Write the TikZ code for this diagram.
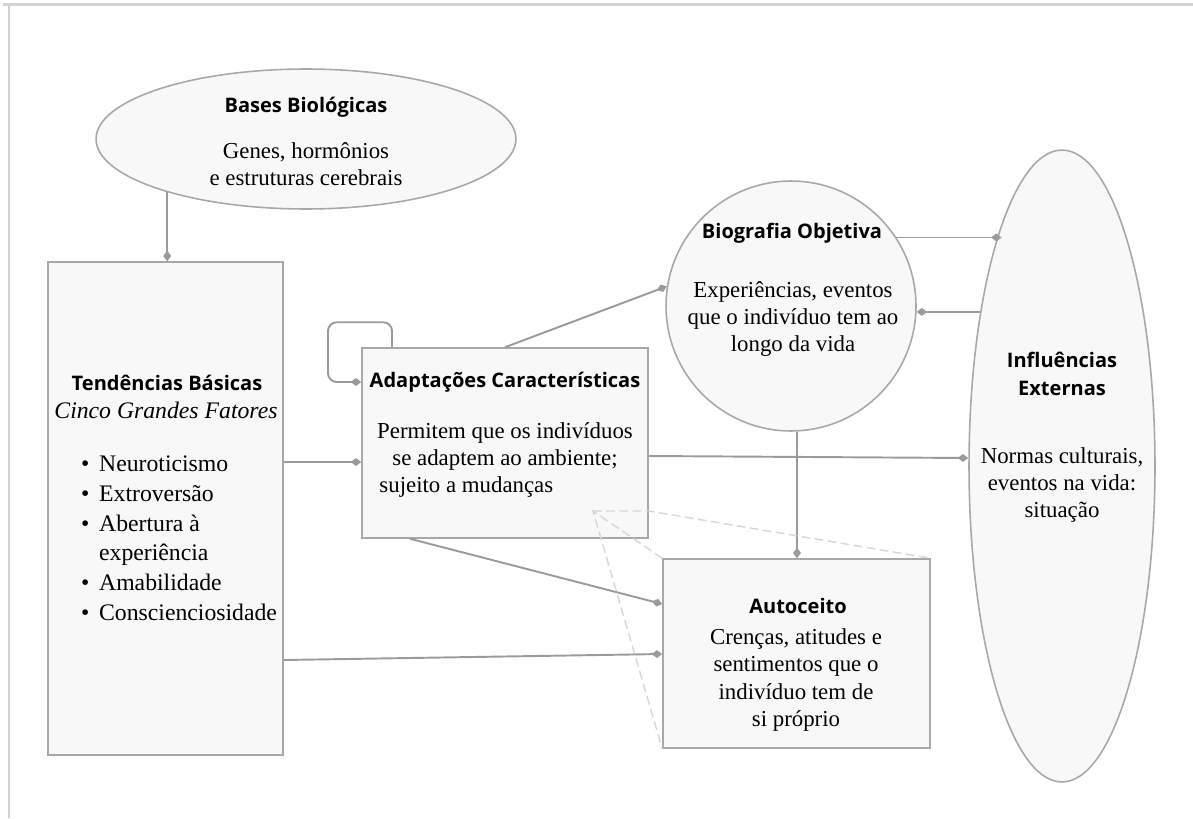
\documentclass[tikz,border=0pt]{standalone}
\usepackage{fontspec}
\setmainfont{Liberation Serif}
\newfontfamily\headfont{Open Sans}
\usetikzlibrary{arrows.meta,shapes.geometric}

\definecolor{linegray}{HTML}{9B9B9B}
\definecolor{boxgray}{HTML}{A8A8A8}
\definecolor{fillgray}{HTML}{F8F8F8}
\definecolor{dashgray}{HTML}{D6D6D6}
\definecolor{framegray}{HTML}{D2D2D2}

\tikzset{
  box/.style={draw=boxgray, fill=fillgray, line width=0.9pt, inner sep=0pt},
  oval/.style={box, ellipse},
  head/.style={font=\headfont\bfseries\fontsize{11.4}{15.5}\selectfont, align=center},
  body/.style={font=\fontsize{13}{15.5}\selectfont, align=center},
  con/.style={draw=linegray, line width=1.1pt, -{Diamond[length=6pt,width=4.5pt]}},
  callout/.style={draw=dashgray, line width=0.8pt, dash pattern=on 5pt off 2.5pt},
}

\begin{document}
\begin{tikzpicture}[x=0.02cm,y=-0.02cm]
  \useasboundingbox (0,0) rectangle (1193,818);
  % frame
  \draw[framegray, line width=1.2pt] (3,4.5) -- (1193,4.5);
  \draw[framegray, line width=1.2pt] (9,4.5) -- (9,818);

  % shapes
  \node[oval, minimum width=8.4cm, minimum height=2.8cm] (bases) at (306,139) {};
  \node[box, minimum width=4.7cm, minimum height=9.86cm] (tend) at (165.5,508.5) {};
  \node[box, minimum width=5.72cm, minimum height=3.8cm] (adapt) at (505,443) {};
  \node[box, circle, minimum size=5cm] (bio) at (791,306) {};
  \node[oval, minimum width=3.72cm, minimum height=12.64cm] (infl) at (1062,466) {};
  \node[box, minimum width=5.34cm, minimum height=3.78cm] (auto) at (796.5,653.5) {};

  % texts
  \node[head] (basesT) at (306,107) {Bases Biológicas};
  \node[body] (basesB) at (306,164) {Genes, hormônios\\e estruturas cerebrais};

  \node[head] (tendT) at (167,383) {Tendências Básicas};
  \node[body, font=\itshape\fontsize{13.5}{15.5}\selectfont] (tendS) at (166,410) {Cinco Grandes Fatores};
  \node[body, anchor=west, font=\fontsize{13.5}{17}\selectfont, align=left] (tendL) at (75,540)
    {\renewcommand{\arraystretch}{1}%
     \begin{tabular}{@{}l@{\hspace{5.5pt}}l@{}}
       \textbullet & Neuroticismo\\
       \textbullet & Extroversão\\
       \textbullet & Abertura à\\
                   & experiência\\
       \textbullet & Amabilidade\\
       \textbullet & Conscienciosidade
     \end{tabular}};

  \node[head] (adaptT) at (505,382) {Adaptações Características};
  \node[body] (adaptB) at (505,460) {Permitem que os indivíduos\\se adaptem ao ambiente;\\sujeito a mudanças\hspace*{44pt}};

  \node[head] (bioT) at (792,233) {Biografia Objetiva};
  \node[body] (bioB) at (793,319) {Experiências, eventos\\que o indivíduo tem ao\\longo da vida};

  \node[head] (inflT) at (1062,374) {Influências\\Externas};
  \node[body] (inflB) at (1062,485) {Normas culturais,\\eventos na vida:\\situação};

  \node[head] (autoT) at (798,606) {Autoceito};
  \node[body] (autoB) at (796,680) {Crenças, atitudes e\\sentimentos que o\\indivíduo tem de\\si próprio};

  % connectors
  \draw[con] (bases.201) -- (bases.201 |- tend.north);
  \draw[con] (tend.east |- 0,462) -- (adapt.west |- 0,462);
  \draw[con, rounded corners=5pt] (adapt.north -| 392,0) -- ++(0,-25) -| (328,382) -- (adapt.west |- 0,382);
  \draw[con] (adapt.north) -- (bio.171);
  \draw[con] (adapt.east |- 0,456) -- (infl.west |- 0,458);
  \draw[con] (adapt.south -| 410,0) -- (auto.west |- 0,604);
  \draw[con] (tend.east |- 0,660) -- (auto.west |- 0,654);
  \draw[con] (bio.south -| 797,0) -- (auto.north -| 797,0);
  \draw[con] (bio.33) -- (infl.104 |- bio.33);
  \draw[con] (infl.118) -- (bio.-3 |- infl.118);

  % callout
  \coordinate (callout) at (593,511);
  \draw[callout] (callout) -- (adapt.east |- callout) -- (auto.north east);
  \draw[callout] (auto.north west) -- (callout) -- (auto.south west);
\end{tikzpicture}
\end{document}
